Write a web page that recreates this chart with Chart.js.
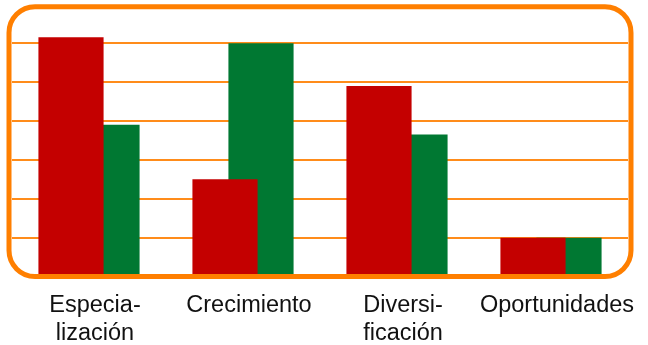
<!DOCTYPE html>
<html>
<head>
<meta charset="utf-8">
<style>
  html, body { margin: 0; padding: 0; background: #ffffff; }
  #wrap { width: 648px; height: 345px; }
</style>
<script src="https://cdn.jsdelivr.net/npm/chart.js@4/dist/chart.umd.min.js"></script>
</head>
<body>
<div id="wrap"><canvas id="c" width="648" height="345"></canvas></div>
<script>
// Strategy categories (two-line labels where the word is hyphenated)
const categories = [
  ["Especia-", "lización"],
  "Crecimiento",
  ["Diversi-", "ficación"],
  "Oportunidades"
];
const redValues = [6.15, 2.5, 4.9, 1.0];
const greenValues = [3.9, 6.0, 3.65, 1.0];
const yTicks = [1, 2, 3, 4, 5, 6];

const ORANGE = "#FF7F00";
const GRID_ORANGE = "#FF8C1A";

// Rounded orange frame around the plot area, drawn over the bar bases
const framePlugin = {
  id: "roundFrame",
  afterDraw(chart) {
    const { ctx, chartArea } = chart;
    const x = chartArea.left - 3;
    const y = chartArea.top - 17;
    const w = chartArea.right - chartArea.left + 6;
    const h = chartArea.bottom - y;
    ctx.save();
    ctx.lineWidth = 5;
    ctx.strokeStyle = ORANGE;
    ctx.beginPath();
    ctx.roundRect(x, y, w, h, 26);
    ctx.stroke();
    ctx.restore();
  }
};

new Chart(document.getElementById("c"), {
  type: "bar",
  data: {
    labels: categories,
    datasets: [
      {
        data: redValues,
        backgroundColor: "#C40000",
        categoryPercentage: 0.4675,
        barPercentage: 1.81
      },
      {
        data: greenValues,
        backgroundColor: "#007832",
        categoryPercentage: 0.4675,
        barPercentage: 1.81
      }
    ]
  },
  options: {
    responsive: false,
    animation: false,
    devicePixelRatio: 1,
    layout: { padding: { left: 12, right: 20, top: 23.7, bottom: 0 } },
    plugins: {
      legend: { display: false },
      tooltip: { enabled: false }
    },
    scales: {
      x: {
        offset: true,
        grid: { display: false },
        border: { display: false },
        ticks: {
          color: "#111111",
          font: { family: "'Liberation Sans', Arial, sans-serif", size: 23.5 },
          padding: 7,
          labelOffset: 6,
          maxRotation: 0,
          autoSkip: false
        },
        afterFit(scale) { scale.height = 68.4; }
      },
      y: {
        min: 0,
        max: 6.5,
        border: { display: false },
        grid: { color: GRID_ORANGE, lineWidth: 2, drawTicks: false },
        ticks: { display: false, stepSize: 1 },
        afterBuildTicks(scale) {
          scale.ticks = yTicks.map(v => ({ value: v }));
        },
        afterFit(scale) { scale.width = 0; }
      }
    }
  },
  plugins: [framePlugin]
});
</script>
</body>
</html>
